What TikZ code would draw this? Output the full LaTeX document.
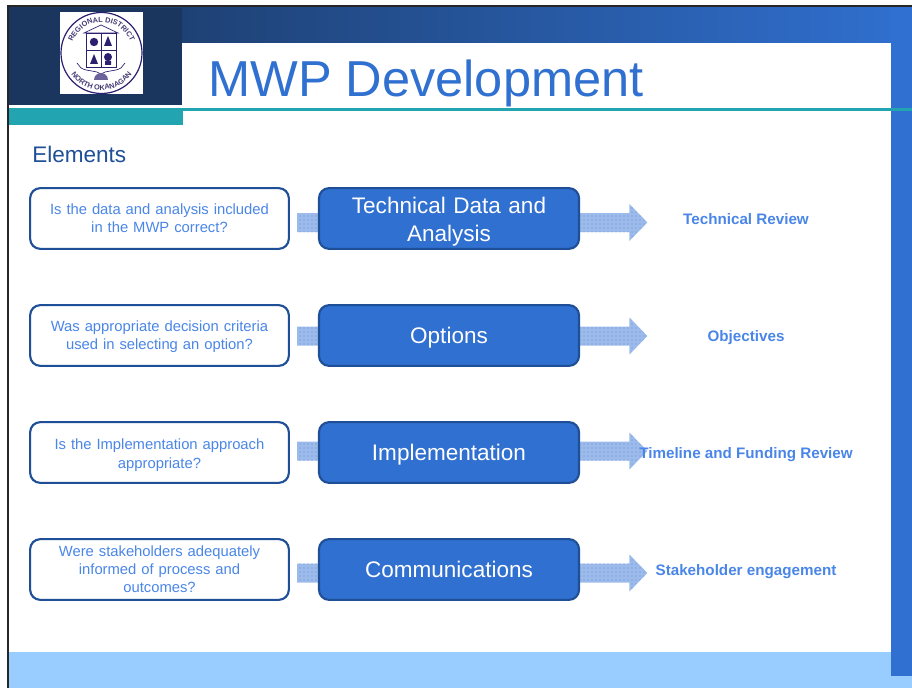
\documentclass[tikz,border=0pt]{standalone}
\usepackage{fontspec}
\setmainfont{Liberation Sans}
\usetikzlibrary{calc,patterns,backgrounds,decorations.text}
\definecolor{navy}{HTML}{1A365F}
\definecolor{mainblue}{HTML}{3070D0}
\definecolor{edgeblue}{HTML}{1F4F97}
\definecolor{teal}{HTML}{22A5B0}
\definecolor{pale}{HTML}{99CCFF}
\definecolor{arrowblue}{HTML}{9DBBEA}
\definecolor{arrowdot}{HTML}{5F8FDC}
\definecolor{labelblue}{HTML}{4A86E8}
\definecolor{crest}{HTML}{2C1F70}
\tikzset{
  x=0.75pt,y=-0.75pt,
  questionbox/.style={draw=edgeblue,line width=1.6pt,fill=white,rounded corners=7.5pt,minimum width=194pt,minimum height=45.5pt,align=center,text width=185pt,text=labelblue,font=\fontsize{11.1}{13.6}\selectfont,inner sep=0pt},
  stagebox/.style={draw=edgeblue,line width=1.6pt,fill=mainblue,rounded corners=7.5pt,minimum width=195pt,minimum height=45.5pt,align=center,text width=190pt,text=white,font=\fontsize{16.9}{21}\selectfont,inner sep=0pt},
  outcome/.style={text=labelblue,font=\bfseries\fontsize{11.4}{13}\selectfont,inner sep=0pt},
  blockfill/.style={fill=arrowblue,postaction={pattern=dots,pattern color=arrowdot}},
  crestline/.style={draw=crest,line width=0.5pt},
  cresttext/.style={decoration={text along path,text align=center,text={|\fontsize{5.5}{6}\bfseries\color{crest!70!gray}|#1}},decorate},
}
\newcommand{\oneline}[1]{\raisebox{-6.2pt}[0pt][0pt]{#1}}
\newcommand{\rowarrow}[3]{% question, stage, vertical shift from box centre (px)
  \coordinate (#2tail) at ($(#1.east)+(5.5pt,#3)$);
  \coordinate (#2tip) at ($(#2.east)+(50.5pt,#3)$);
  \path[blockfill] ($(#2tail)+(0,-9.5)$) -- ($(#2tip)+(-18,-9.5)$) -- ($(#2tip)+(-18,-18.5)$) -- (#2tip) -- ($(#2tip)+(-18,18.5)$) -- ($(#2tip)+(-18,9.5)$) -- ($(#2tail)+(0,9.5)$) -- cycle;
}
\begin{document}
\begin{tikzpicture}
\useasboundingbox (0,0) rectangle (912,688);
\begin{scope}[on background layer]
\fill[white] (0,0) rectangle (912,688);
% page frame
\fill[black!85] (7,5) rectangle (912,8);
\fill[black!85] (7,5) rectangle (9,688);
% header
\shade[left color=navy,right color=mainblue] (9,8) rectangle (912,43);
\fill[navy] (9,8) rectangle (182,105);
\fill[mainblue] (891,8) rectangle (912,676);
\fill[pale] (9,652) rectangle (912,688);
\fill[mainblue] (891,652) rectangle (912,676);
\fill[white] (182,43) rectangle (891,108);
\fill[teal] (183,108) rectangle (912,111);
\fill[teal] (9,108) rectangle (183,125);
\end{scope}
% crest
\fill[white] (60,12) rectangle (143,94);
\coordinate (c) at (101.5,53);
\draw[crest,line width=0.9pt] (c) circle[radius=40.5];
\path[cresttext={REGIONAL DISTRICT}] (c) ++(168:31) arc[start angle=168,end angle=372,radius=31];
\path[cresttext={NORTH OKANAGAN}] (c) ++(155:37) arc[start angle=155,end angle=25,radius=37];
\draw[crestline,fill=white] (86,33) rectangle (116,67);
\draw[crestline] (101,33) -- (101,67) (86,50) -- (116,50);
\draw[crestline,fill=white] (84,33) -- (101,25) -- (118,33) -- cycle;
\fill[crest] (94,42) circle[radius=4.2];
\fill[crest] (108,36) -- (112,46) -- (104,46) -- cycle;
\fill[crest] (94,54) -- (98,64) -- (90,64) -- cycle;
\fill[crest] (108,57) circle[radius=4] (105,61) rectangle (111,65);
\draw[crestline] (77,63) -- (81,68) .. controls (88,72) and (96,70) .. (101,74) .. controls (106,70) and (114,72) .. (121,68) -- (125,63);
\fill[crest!70] (94,80) arc[start angle=180,end angle=360,radius=7] -- cycle;
% title and heading
\node[anchor=west,text=mainblue,font=\fontsize{37.9}{44}\selectfont,inner sep=0pt] (title) at (208,83) {MWP Development};
\node[anchor=west,text=edgeblue,font=\fontsize{16.9}{19}\selectfont,inner sep=0pt] (heading) at (32,154) {Elements};
% rows
\node[questionbox] (q1) at (159.5,218.5) {Is the data and analysis included\\in the MWP correct?};
\node[stagebox] (s1) at (449,218.5) {\rule{0pt}{17pt}Technical Data and\\Analysis};
\node[outcome] (o1) at (746,219.5) {Technical Review};
\node[questionbox] (q2) at (159.5,335.5) {\strut Was appropriate decision criteria\\used in selecting an option?};
\node[stagebox] (s2) at (449,335.5) {\oneline{Options}};
\node[outcome] (o2) at (746,337.5) {Objectives};
\node[questionbox] (q3) at (159.5,452.5) {\rule{0pt}{12pt}Is the Implementation approach\\appropriate?};
\node[stagebox] (s3) at (449,452.5) {\oneline{Implementation}};
\node[outcome] (o3) at (746,454.5) {Timeline and Funding Review};
\node[questionbox] (q4) at (159.5,569.5) {Were stakeholders adequately\\informed of process and\\outcomes?};
\node[stagebox] (s4) at (449,569.5) {\oneline{Communications}};
\node[outcome] (o4) at (746,571.5) {Stakeholder engagement};
\begin{scope}[on background layer]
\rowarrow{q1}{s1}{4}
\rowarrow{q2}{s2}{0.5}
\rowarrow{q3}{s3}{-1.5}
\rowarrow{q4}{s4}{3.5}
\end{scope}
\end{tikzpicture}
\end{document}
